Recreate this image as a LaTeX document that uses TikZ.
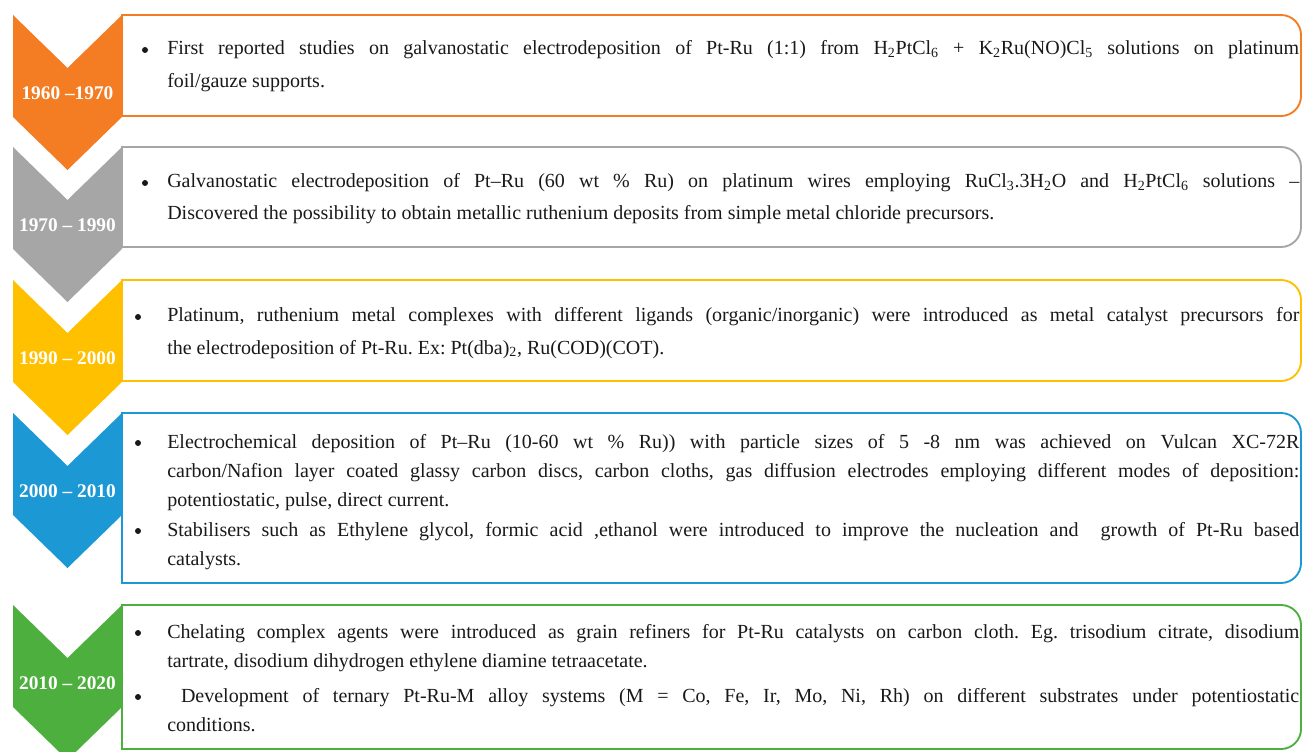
\documentclass[tikz,border=0pt]{standalone}
\usepackage{fontspec}
\setmainfont{Liberation Serif}
\frenchspacing
\definecolor{corange}{RGB}{244,124,34}
\definecolor{cgray}{RGB}{166,166,166}
\definecolor{cyellow}{RGB}{255,192,0}
\definecolor{cblue}{RGB}{28,152,213}
\definecolor{cgreen}{RGB}{77,175,62}
\definecolor{ctext}{RGB}{25,25,25}
\newlength\linew
\setlength\linew{849pt}
\newcommand\jl[1]{\makebox[\linew][s]{#1}}
\newcommand\sub[1]{\textsubscript{#1}}
\tikzset{
  boxline/.style={line width=1.4pt},
  chevlabel/.style={text=white, font=\fontsize{14.5}{16}\selectfont\bfseries, inner sep=0},
  txt/.style={anchor=base west, inner sep=0, text=ctext, font=\fontsize{15}{17}\selectfont},
  bul/.style={circle, fill=ctext, inner sep=0, minimum size=4.5pt}
}
\newcommand\stage[5]{%
  \fill[#1] (13,#2) -- (67.5,#2+53) -- (122,#2) -- (122,#2+102) -- (67.5,#2+155) -- (13,#2+102) -- cycle;
  \draw[boxline,#1] (122,#3) -- (122,#2) -- (1281,#2) arc[start angle=-90,end angle=0,radius=20] -- (1301,#3-20) arc[start angle=0,end angle=90,radius=20] -- cycle;
  \node[chevlabel] (#5) at (67.5,#2+78) {#4};
}
\begin{document}
\begin{tikzpicture}[x=0.75pt,y=-0.75pt]
\useasboundingbox (0,0) rectangle (1303,752);
\clip (0,0) rectangle (1303,752);
\stage{corange}{15}{116}{1960 --1970}{lab1}
\stage{cgray}{147}{247}{1970 -- 1990}{lab2}
\stage{cyellow}{280}{381}{1990 -- 2000}{lab3}
\stage{cblue}{413}{583}{2000 -- 2010}{lab4}
\stage{cgreen}{605}{749}{2010 -- 2020}{lab5}
% box 1
\node[bul] (d11) at (145,50) {};
\node[txt] (t11) at (167,55) {\jl{First reported studies on galvanostatic electrodeposition of Pt-Ru (1:1) from H\sub{2}PtCl\sub{6} + K\sub{2}Ru(NO)Cl\sub{5} solutions on platinum}};
\node[txt] (t12) at (167,88) {foil/gauze supports.};
% box 2
\node[bul] (d21) at (145,183) {};
\node[txt] (t21) at (167,188) {\jl{Galvanostatic electrodeposition of Pt--Ru (60 wt \% Ru) on platinum wires employing RuCl\sub{3}.3H\sub{2}O and H\sub{2}PtCl\sub{6} solutions --}};
\node[txt] (t22) at (167,220) {Discovered the possibility to obtain metallic ruthenium deposits from simple metal chloride precursors.};
% box 3
\node[bul] (d31) at (138,317) {};
\node[txt] (t31) at (167,322) {\jl{Platinum, ruthenium metal complexes with different ligands (organic/inorganic) were introduced as metal catalyst precursors for}};
\node[txt] (t32) at (167,354) {the electrodeposition of Pt-Ru. Ex: Pt(dba)\sub{2}, Ru(COD)(COT).};
% box 4
\node[bul] (d41) at (138,443) {};
\node[txt] (t41) at (167,448) {\jl{Electrochemical deposition of Pt--Ru (10-60 wt \% Ru)) with particle sizes of 5 -8 nm was achieved on Vulcan XC-72R}};
\node[txt] (t42) at (167,477) {\jl{carbon/Nafion layer coated glassy carbon discs, carbon cloths, gas diffusion electrodes employing different modes of deposition:}};
\node[txt] (t43) at (167,506) {potentiostatic, pulse, direct current.};
\node[bul] (d42) at (138,531) {};
\node[txt] (t44) at (167,536) {\jl{Stabilisers such as Ethylene glycol, formic acid ,ethanol were introduced to improve the nucleation and\ \ growth of Pt-Ru based}};
\node[txt] (t45) at (167,565) {catalysts.};
% box 5
\node[bul] (d51) at (138,633) {};
\node[txt] (t51) at (167,638) {\jl{Chelating complex agents were introduced as grain refiners for Pt-Ru catalysts on carbon cloth. Eg. trisodium citrate, disodium}};
\node[txt] (t52) at (167,667) {tartrate, disodium dihydrogen ethylene diamine tetraacetate.};
\node[bul] (d52) at (138,697) {};
\node[txt] (t53) at (167,702) {\jl{\ Development of ternary Pt-Ru-M alloy systems (M = Co, Fe, Ir, Mo, Ni, Rh) on different substrates under potentiostatic}};
\node[txt] (t54) at (167,731) {conditions.};
\end{tikzpicture}
\end{document}
